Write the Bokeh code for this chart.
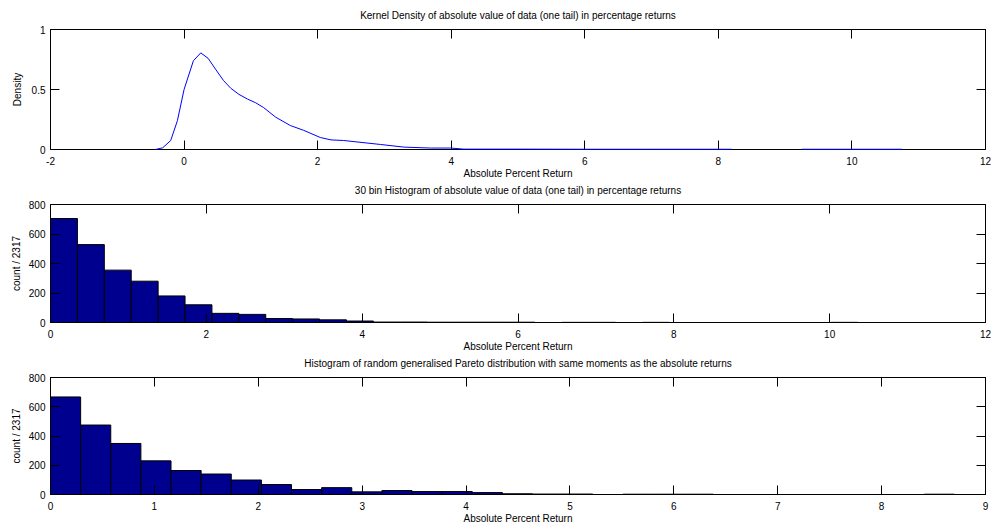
import math
import numpy as np
from bokeh.plotting import figure
from bokeh.models import LinearAxis, FixedTicker, Range1d
from bokeh.layouts import column
from bokeh.embed import file_html
from bokeh.resources import INLINE

# ---------------- data ----------------
# Panel 1: kernel density of |returns| (piecewise-linear; NaN = hidden under axis)
kde_x = [-0.43, -0.32, -0.20, -0.10, 0.00, 0.14, 0.25, 0.36, 0.47, 0.59, 0.70, 0.82,
         0.95, 1.07, 1.19, 1.37, 1.59, 1.79, 2.04, 2.20, 2.39, 2.94, 3.29, 3.69, 3.99,
         4.19, 5.0, 6.0, 7.0, 8.2, 8.7, 9.25, 10.0, 10.75]
kde_y = [0.0, 0.014, 0.075, 0.24, 0.50, 0.74, 0.805, 0.76, 0.67, 0.575, 0.51, 0.46,
         0.42, 0.39, 0.35, 0.27, 0.20, 0.16, 0.10, 0.08, 0.075, 0.042, 0.02, 0.012, 0.012,
         0.003, 0.003, 0.002, 0.002, 0.002, float("nan"), 0.002, 0.002, 0.002]

# Panel 2: 30-bin histogram of |returns|
h2_min, h2_max = 0.0, 10.36
h2_counts = [705, 528, 355, 280, 180, 120, 62, 55, 27, 24, 18, 10, 3, 3, 2,
             2, 2, 2, 0, 1, 1, 0, 1, 0, 0, 0, 0, 0, 0, 1]

# Panel 3: histogram of random generalised Pareto sample
h3_min, h3_max = 0.0, 8.70
h3_counts = [667, 475, 349, 230, 164, 140, 99, 68, 34, 47, 18, 27, 20, 20, 13,
             5, 3, 3, 0, 2, 2, 2, 0, 0, 0, 0, 0, 0, 0, 2]

# ticks / labels
p1_xticks = [-2, 0, 2, 4, 6, 8, 10, 12]
p1_yticks = [0, 0.5, 1]
p1_yticklabels = ["0", "0.5", "1"]
p2_xticks = [0, 2, 4, 6, 8, 10, 12]
p3_xticks = [0, 1, 2, 3, 4, 5, 6, 7, 8, 9]
hist_yticks = [0, 200, 400, 600, 800]

t1 = "Kernel Density of absolute value of data (one tail) in percentage returns"
t2 = "30 bin Histogram of absolute value of data (one tail) in percentage returns"
t3 = "Histogram of random generalised Pareto distribution with same moments as the absolute returns"
xlab = "Absolute Percent Return"
ylab1 = "Density"
ylab_h = "count / 2317"

# ---------------- styling ----------------
FONT = "Liberation Sans"
W = 991
TICK = 9


def fmt(v):
    if float(v).is_integer():
        return str(int(v))
    return str(v)


def make_fig(height, top, bottom, xr, yr, xticks, yticks, title, ylabel,
             ylabels=None, ylab_standoff=4):
    p = figure(width=W, height=height, output_backend="svg", toolbar_location=None,
               x_range=Range1d(*xr), y_range=Range1d(*yr), title=None,
               min_border_left=50, min_border_right=6,
               min_border_top=top, min_border_bottom=bottom)
    p.background_fill_color = "white"
    p.border_fill_color = "white"
    p.outline_line_color = "black"
    p.outline_line_width = 1
    p.xgrid.visible = False
    p.ygrid.visible = False

    xlabels = {x: fmt(x) for x in xticks}
    if ylabels is None:
        ylabels = [fmt(y) for y in yticks]
    ylab_map = {y: l for y, l in zip(yticks, ylabels)}

    for ax, ticks, labs in ((p.xaxis[0], xticks, xlabels), (p.yaxis[0], yticks, ylab_map)):
        ax.ticker = FixedTicker(ticks=ticks)
        ax.major_label_overrides = labs
        ax.major_tick_in = TICK
        ax.major_tick_out = 0
        ax.minor_tick_line_color = None
        ax.major_tick_line_color = "black"
        ax.axis_line_color = "black"
        ax.major_label_text_font = FONT
        ax.major_label_text_font_size = "10px"
        ax.major_label_text_color = "black"
        ax.axis_label_text_font = FONT
        ax.axis_label_text_font_size = "10px"
        ax.axis_label_text_font_style = "normal"
        ax.axis_label_text_color = "black"
        ax.major_label_standoff = 5

    p.xaxis[0].major_label_standoff = 7
    p.xaxis[0].axis_label_standoff = 0
    p.yaxis[0].axis_label_standoff = ylab_standoff
    p.xaxis[0].axis_label = xlab
    p.yaxis[0].axis_label = ylabel

    # top axis: inward ticks, no tick labels, carries the panel title
    top_ax = LinearAxis(ticker=FixedTicker(ticks=xticks), major_tick_in=TICK, major_tick_out=0,
                        minor_tick_line_color=None, major_label_text_color=None,
                        major_label_overrides={x: "" for x in xticks},
                        major_label_standoff=0, axis_line_color="black",
                        axis_label=title, axis_label_standoff=9,
                        axis_label_text_font=FONT, axis_label_text_font_size="10px",
                        axis_label_text_font_style="normal", axis_label_text_color="black")
    right_ax = LinearAxis(ticker=FixedTicker(ticks=yticks), major_tick_in=TICK, major_tick_out=0,
                          minor_tick_line_color=None, major_label_text_color=None,
                          major_label_overrides={y: "" for y in yticks},
                          major_label_standoff=0, axis_line_color="black")
    p.add_layout(top_ax, "above")
    p.add_layout(right_ax, "right")
    return p


# Panel 1
p1 = make_fig(181, 29, 31, (-2, 12), (0, 1), p1_xticks, p1_yticks, t1, ylab1,
              p1_yticklabels, ylab_standoff=6)
r = p1.line(kde_x, kde_y, line_color="#0000FF", line_width=1)
r.level = "overlay"

# Panel 2
p2 = make_fig(173, 22, 31, (0, 12), (0, 800), p2_xticks, hist_yticks, t2, ylab_h)
e2 = np.linspace(h2_min, h2_max, len(h2_counts) + 1)
p2.quad(left=e2[:-1], right=e2[1:], bottom=0, top=h2_counts,
        fill_color="#00008F", line_color="black", line_width=1)

# Panel 3
p3 = make_fig(172, 22, 31, (0, 9), (0, 800), p3_xticks, hist_yticks, t3, ylab_h)
e3 = np.linspace(h3_min, h3_max, len(h3_counts) + 1)
p3.quad(left=e3[:-1], right=e3[1:], bottom=0, top=h3_counts,
        fill_color="#00008F", line_color="black", line_width=1)

layout = column(p1, p2, p3, spacing=0)
open("out.html", "w").write(file_html(layout, INLINE))
